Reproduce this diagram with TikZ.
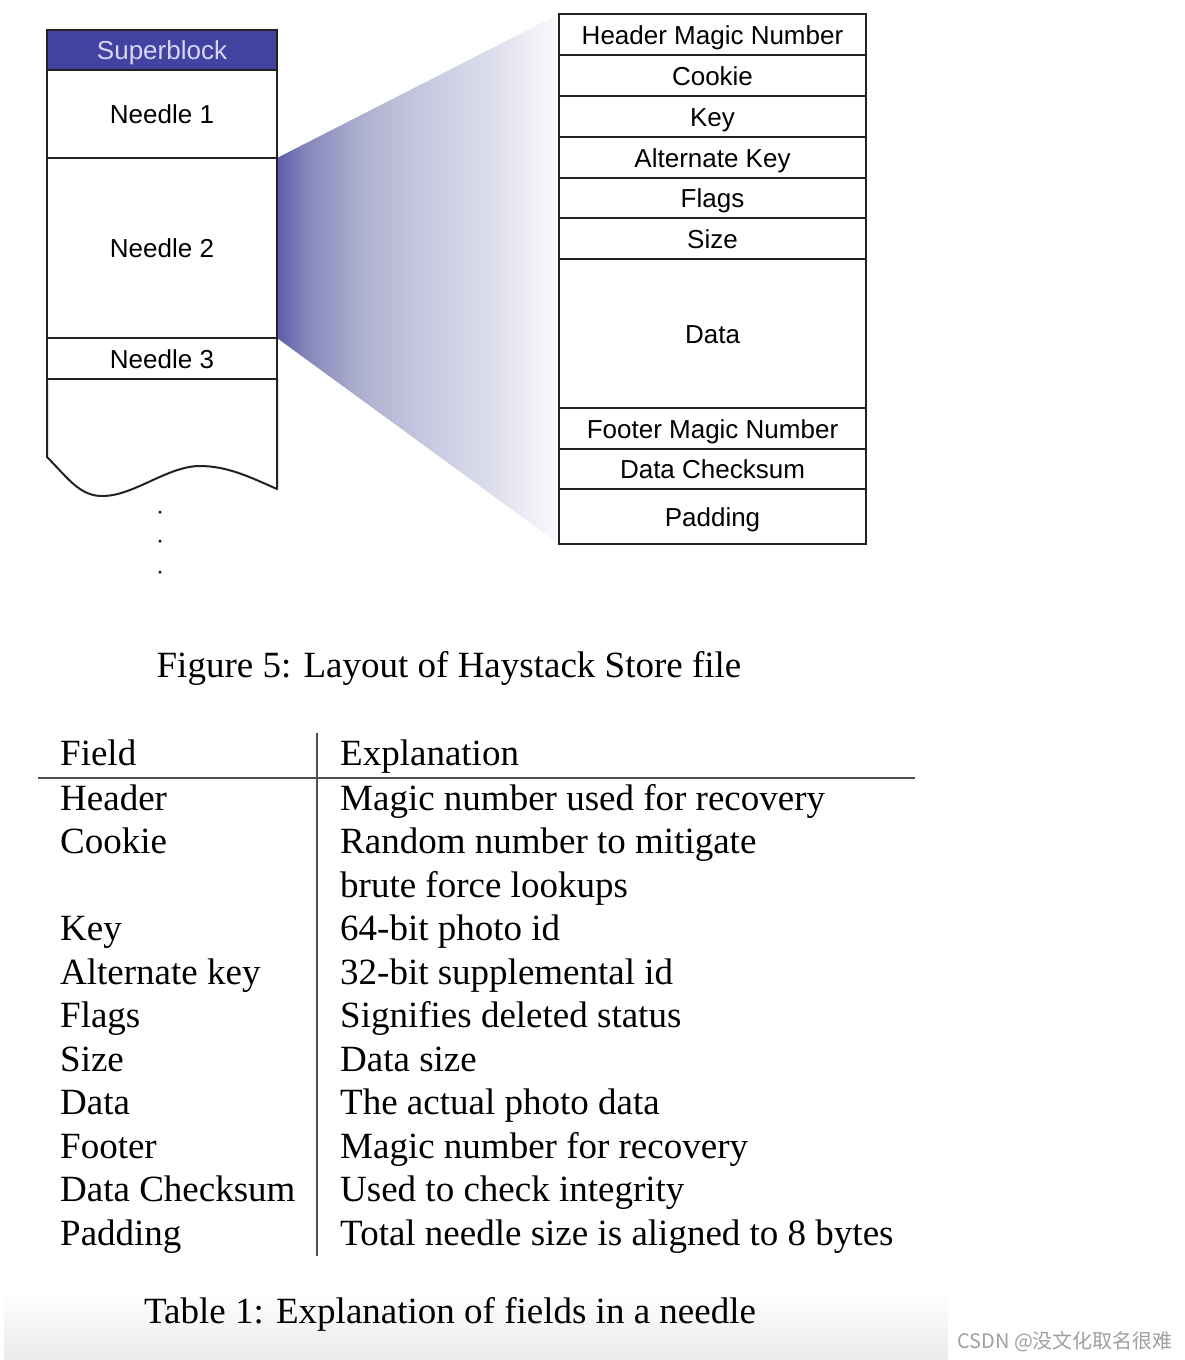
\documentclass[tikz,border=0pt]{standalone}
\usepackage{fontspec}
\setmainfont{Liberation Serif}
\newfontfamily\arialf{Liberation Sans}
\newfontfamily\cjk{Noto Sans CJK SC}
\definecolor{sbfill}{RGB}{66,66,160}
\definecolor{sbtext}{RGB}{214,214,246}
\definecolor{lineC}{RGB}{34,34,34}
\definecolor{fanA}{RGB}{92,92,170}
\definecolor{fanB}{RGB}{132,134,186}
\definecolor{fanC}{RGB}{174,176,208}
\definecolor{fanD}{RGB}{196,198,223}
\definecolor{fanE}{RGB}{220,221,235}
\definecolor{fanF}{RGB}{250,250,253}
\definecolor{wmark}{RGB}{160,160,160}
\pgfdeclarehorizontalshading{fan}{100bp}{color(0bp)=(fanA); color(25bp)=(fanA); color(30bp)=(fanB); color(40bp)=(fanC); color(50bp)=(fanD); color(62.5bp)=(fanE); color(75bp)=(fanF); color(100bp)=(fanF)}
\begin{document}
\begin{tikzpicture}[x=1pt,y=-1pt,
  cellL/.style={draw=lineC, line width=2pt, rectangle, inner sep=0pt,
    minimum width=230pt, text height=22pt, text depth=2.5pt,
    font=\arialf\fontsize{26}{30}\selectfont},
  cellR/.style={draw=lineC, line width=2pt, rectangle, inner sep=0pt,
    minimum width=307pt, text height=22pt, text depth=2.5pt,
    font=\arialf\fontsize{26}{30}\selectfont},
  tabtxt/.style={anchor=base west, inner sep=0pt, font=\fontsize{37}{44}\selectfont},
  captxt/.style={anchor=base, inner sep=0pt, font=\fontsize{37}{44}\selectfont},
  rule/.style={draw=lineC!80, line width=2pt},
  dotS/.style={fill=lineC, circle, inner sep=0pt, minimum size=3.5pt}]
\useasboundingbox (0,0) rectangle (1184,1360);
\fill[white] (0,0) rectangle (1184,1360);
\shade[top color=white, bottom color=black!8] (4,1290) rectangle (948,1360);

% fan (gradient trapezoid)
\shade[shading=fan] (277,158) -- (559,14) -- (559,544) -- (277,338) -- cycle;

% left column (store file)
\node[cellL, fill=sbfill, text=sbtext, minimum height=40pt] (sb) at (162,50) {Superblock};
\node[cellL, minimum height=88pt] (n1) at (162,114) {Needle 1};
\node[cellL, minimum height=180pt] (n2) at (162,248) {Needle 2};
\node[cellL, minimum height=41pt] (n3) at (162,358.5) {Needle 3};
\draw[draw=lineC, line width=2pt, line join=round] (47,379) -- (47,457)
  .. controls (68,478) and (80,497) .. (104,496)
  .. controls (135,495) and (168,466) .. (200,466)
  .. controls (228,466) and (252,478) .. (277,489) -- (277,379);
\node[dotS] (d1) at (160,512) {};
\node[dotS] (d2) at (160,541) {};
\node[dotS] (d3) at (160,572) {};

% right column (needle layout)
\node[cellR, minimum height=41pt] (hmn) at (712.5,34.5) {Header Magic Number};
\node[cellR, minimum height=41pt] (ck) at (712.5,75.5) {Cookie};
\node[cellR, minimum height=41pt] (ky) at (712.5,116.5) {Key};
\node[cellR, minimum height=41pt] (ak) at (712.5,157.5) {Alternate Key};
\node[cellR, minimum height=40pt] (fl) at (712.5,198) {Flags};
\node[cellR, minimum height=41pt] (sz) at (712.5,238.5) {Size};
\node[cellR, minimum height=149pt] (dt) at (712.5,333.5) {Data};
\node[cellR, minimum height=41pt] (fmn) at (712.5,428.5) {Footer Magic Number};
\node[cellR, minimum height=40pt] (dc) at (712.5,469) {Data Checksum};
\node[cellR, minimum height=55pt] (pd) at (712.5,516.5) {Padding};

% figure caption
\node[captxt] (fcap) at (449,677) {Figure 5: Layout of Haystack Store file};

% table
\coordinate (hl1) at (38,778);
\coordinate (hl2) at (915,778);
\coordinate (vl1) at (317,733);
\coordinate (vl2) at (317,1256);
\draw[rule] (hl1) -- (hl2);
\draw[rule] (vl1) -- (vl2);

\node[tabtxt] (f0) at (60,765) {Field};
\node[tabtxt] (e0) at (340,765) {Explanation};
\node[tabtxt] (f1) at (60,810) {Header};
\node[tabtxt] (e1) at (340,810) {Magic number used for recovery};
\node[tabtxt] (f2) at (60,853.5) {Cookie};
\node[tabtxt] (e2) at (340,853.5) {Random number to mitigate};
\node[tabtxt] (e2b) at (340,897) {brute force lookups};
\node[tabtxt] (f3) at (60,940.5) {Key};
\node[tabtxt] (e3) at (340,940.5) {64-bit photo id};
\node[tabtxt] (f4) at (60,984) {Alternate key};
\node[tabtxt] (e4) at (340,984) {32-bit supplemental id};
\node[tabtxt] (f5) at (60,1027.5) {Flags};
\node[tabtxt] (e5) at (340,1027.5) {Signifies deleted status};
\node[tabtxt] (f6) at (60,1071) {Size};
\node[tabtxt] (e6) at (340,1071) {Data size};
\node[tabtxt] (f7) at (60,1114.5) {Data};
\node[tabtxt] (e7) at (340,1114.5) {The actual photo data};
\node[tabtxt] (f8) at (60,1158) {Footer};
\node[tabtxt] (e8) at (340,1158) {Magic number for recovery};
\node[tabtxt] (f9) at (60,1201.5) {Data Checksum};
\node[tabtxt] (e9) at (340,1201.5) {Used to check integrity};
\node[tabtxt] (f10) at (60,1245) {Padding};
\node[tabtxt] (e10) at (340,1245) {Total needle size is aligned to 8 bytes};

\node[captxt] (tcap) at (450,1323) {Table 1: Explanation of fields in a needle};

% watermark
\node[anchor=base west, inner sep=0pt, text=wmark, font=\cjk\fontsize{20}{24}\selectfont] (wm) at (957,1348) {CSDN @没文化取名很难};
\end{tikzpicture}
\end{document}
